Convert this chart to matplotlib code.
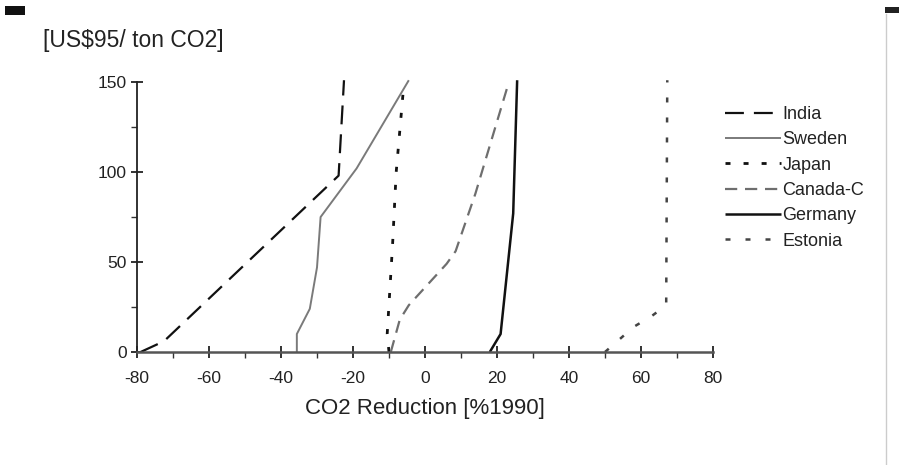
import matplotlib
matplotlib.use("Agg")
import matplotlib.pyplot as plt
from matplotlib.ticker import MultipleLocator
from matplotlib.patches import Rectangle

plt.rcParams['font.family'] = ['Liberation Sans', 'DejaVu Sans']
plt.rcParams['axes.unicode_minus'] = False

# ---- data ----
india_x = [-79, -72.5, -24, -22.5]
india_y = [0, 6, 98, 151]

sweden_x = [-35.6, -35.6, -32, -30, -29, -19, -4.5]
sweden_y = [0, 10, 24, 47, 75, 102, 151]

japan_x = [-10, -10.5, -9, -8, -6]
japan_y = [0, 10, 60, 100, 146]

canada_x = [-9.5, -7, -4.5, 6, 8.5, 14, 17, 23]
canada_y = [0, 18, 26, 49, 56, 88, 108, 148]

germany_x = [18, 21, 24.5, 25.6]
germany_y = [0, 10, 77, 151]

estonia_x = [50, 54, 58, 63, 67, 67.3]
estonia_y = [0, 7, 14, 20, 26, 151]

series = [
    ("India", india_x, india_y, dict(color="#111111", lw=1.6, dashes=(8.5, 4.5))),
    ("Sweden", sweden_x, sweden_y, dict(color="#7a7a7a", lw=1.4)),
    ("Japan", japan_x, japan_y, dict(color="#111111", lw=2.0, dashes=(1.8, 4.7))),
    ("Canada-C", canada_x, canada_y, dict(color="#6e6e6e", lw=1.6, dashes=(5.5, 3.5))),
    ("Germany", germany_x, germany_y, dict(color="#111111", lw=1.8)),
    ("Estonia", estonia_x, estonia_y, dict(color="#444444", lw=1.8, dashes=(2.0, 6.0))),
]

fig = plt.figure(figsize=(8.99, 4.65), dpi=100)
fig.patch.set_facecolor("white")
ax = fig.add_axes([0.1524, 0.243, 0.6407, 0.5806])

for name, xs, ys, st in series:
    ax.plot(xs, ys, label=name, clip_on=False, solid_capstyle="butt",
            dash_capstyle="butt", **st)

ax.set_xlim(-80, 80)
ax.set_ylim(0, 150)
for s in ["top", "right"]:
    ax.spines[s].set_visible(False)
ax.spines["left"].set_color("#222222")
ax.spines["left"].set_linewidth(1.3)
ax.spines["bottom"].set_color("#555555")
ax.spines["bottom"].set_linewidth(1.8)

ax.xaxis.set_major_locator(MultipleLocator(20))
ax.xaxis.set_minor_locator(MultipleLocator(10))
ax.yaxis.set_major_locator(MultipleLocator(50))
ax.yaxis.set_minor_locator(MultipleLocator(25))
ax.tick_params(axis="both", which="major", direction="inout", length=9,
               width=1.3, color="#222222", labelsize=12.5, labelcolor="#222222")
ax.tick_params(axis="both", which="minor", direction="out", length=4,
               width=1.0, color="#333333")
ax.tick_params(axis="x", which="major", pad=9)
ax.tick_params(axis="y", which="major", pad=3)

ax.set_xlabel("CO2 Reduction [%1990]", fontsize=16, color="#222222", labelpad=9)

fig.text(0.048, 0.912, "[US$95/ ton CO2]", fontsize=16.5, color="#222222",
         ha="left", va="center")

leg = ax.legend(loc="upper left", bbox_to_anchor=(0.806, 0.772),
                bbox_transform=fig.transFigure, frameon=False, fontsize=13,
                handlelength=3.1, handletextpad=0.1, labelspacing=0.46,
                borderaxespad=0, borderpad=0)
for t in leg.get_texts():
    t.set_color("#222222")

# scan artefacts: corner marks and page edge
fig.patches.append(Rectangle((0.006, 0.968), 0.022, 0.02, transform=fig.transFigure,
                             facecolor="#111111", edgecolor="none"))
fig.patches.append(Rectangle((0.984, 0.972), 0.016, 0.012, transform=fig.transFigure,
                             facecolor="#222222", edgecolor="none"))
fig.lines.append(plt.Line2D([0.985, 0.985], [0.0, 0.97], transform=fig.transFigure,
                            color="#cccccc", lw=1.0))

fig.savefig("out.png", dpi=100)
